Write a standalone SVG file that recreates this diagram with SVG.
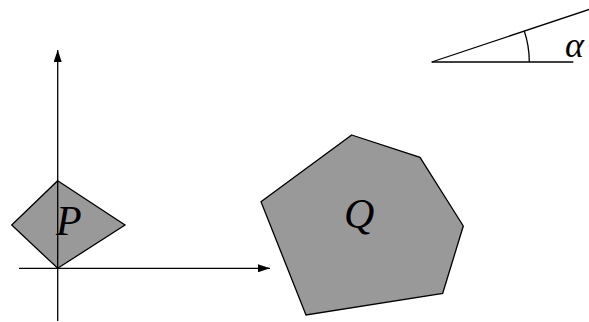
<svg xmlns="http://www.w3.org/2000/svg" width="589" height="322" viewBox="0 0 589 322">
<style>
.ln{stroke:#000;stroke-width:1.3;fill:none}
.poly{fill:#999;stroke:#000;stroke-width:1.3;stroke-linejoin:miter}
.lbl{font-family:"Liberation Serif",serif;font-style:italic;font-size:42px;fill:#000}
</style>
<defs>
<marker id="ah" viewBox="0 0 12 8" refX="12" refY="4" markerWidth="12" markerHeight="8" markerUnits="userSpaceOnUse" orient="auto">
<path d="M0,0 L12,4 L0,8 Z" fill="#000"/>
</marker>
</defs>
<g id="P">
<polygon class="poly" points="57.7,180.7 125,225 57.7,268.3 11.7,225"/>
<text class="lbl" x="56" y="235">P</text>
</g>
<g id="connectors">
<line class="ln" x1="57.7" y1="321" x2="57.7" y2="50" marker-end="url(#ah)"/>
<line class="ln" x1="19" y1="268.3" x2="270" y2="268.3" marker-end="url(#ah)"/>
</g>
<g id="Q">
<polygon class="poly" points="351.7,135 420,157.3 463.3,226 442.7,293.3 306,315 261,201.7"/>
<text class="lbl" x="344" y="228">Q</text>
</g>
<g id="angle">
<line class="ln" x1="431.7" y1="62" x2="573.3" y2="62"/>
<line class="ln" x1="431.7" y1="62" x2="595" y2="7.5"/>
<path class="ln" d="M529.3,62 A97.6,97.6 0 0 0 524.2,30.8"/>
<text class="lbl" x="565" y="57" style="font-size:36px">α</text>
</g>
</svg>
